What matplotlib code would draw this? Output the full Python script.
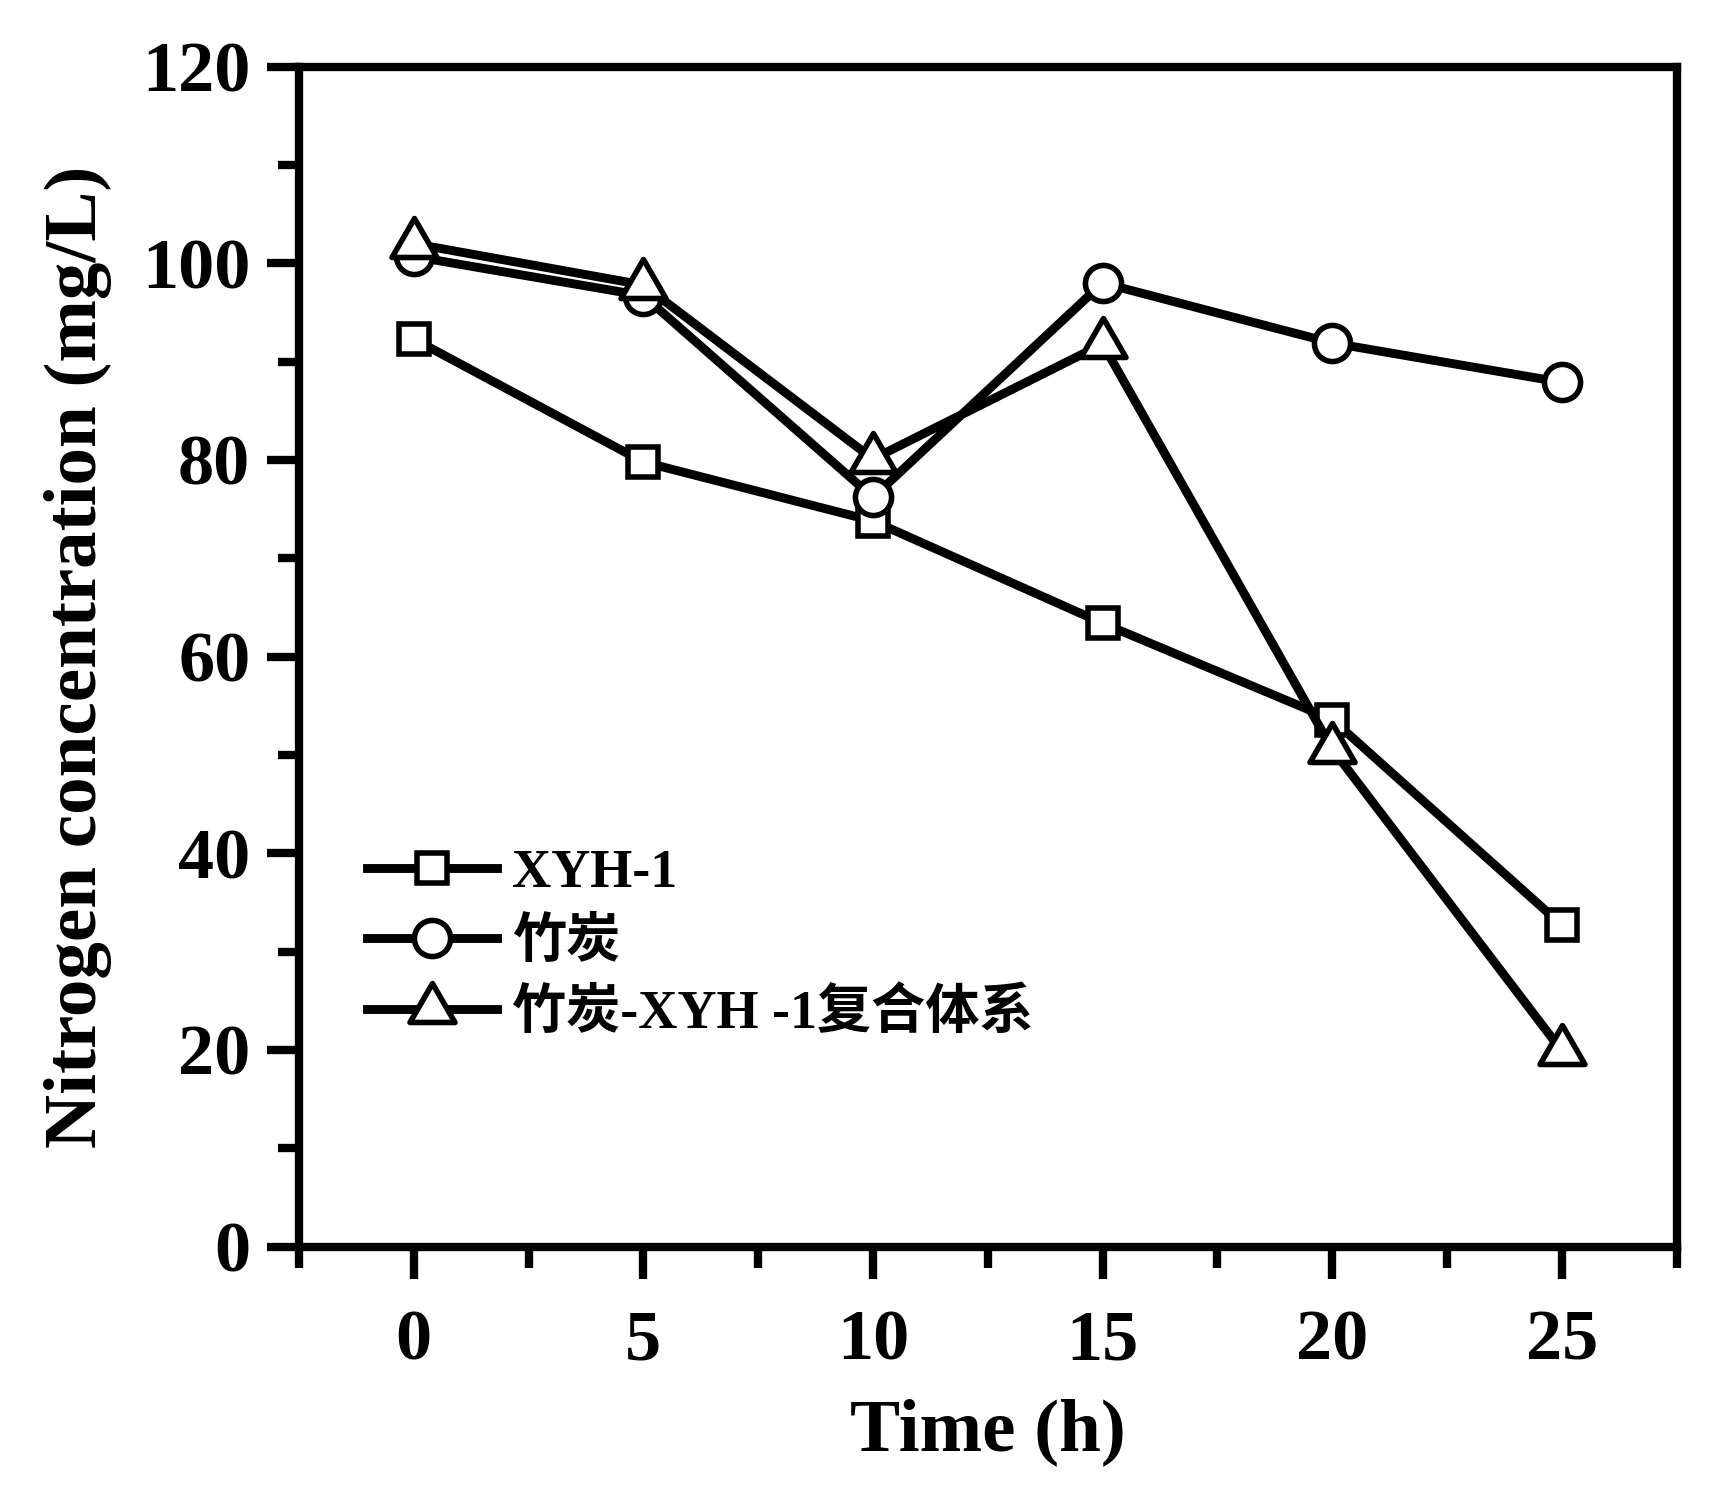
import matplotlib
matplotlib.use('Agg')
import matplotlib.pyplot as plt
from matplotlib.path import Path
from matplotlib.ticker import MultipleLocator, FixedLocator

plt.rcParams['font.family'] = ['Liberation Serif', 'Noto Sans CJK SC']
plt.rcParams['font.weight'] = 'bold'

# data
time_h = [0, 5, 10, 15, 20, 25]
xyh1 = [92.3, 79.8, 73.8, 63.4, 53.6, 32.7]
bamboo_char = [100.7, 96.7, 76.2, 98.0, 91.9, 87.9]
composite = [102.0, 97.8, 80.1, 91.8, 50.6, 19.9]
labels = ['XYH-1', '竹炭', '竹炭-XYH -1复合体系']

# triangle centred on its centroid (Origin style)
tri = Path([(0, 1), (-0.866, -0.5), (0.866, -0.5), (0, 1)], closed=True)

fig = plt.figure(figsize=(8.675, 7.44), dpi=200)
ax = fig.add_axes([0.1723, 0.1622, 0.7941, 0.7930])

style = dict(color='black', lw=3.2, mfc='white', mec='black', mew=2.0)
ax.plot(time_h, xyh1, marker='s', ms=10.7, label=labels[0], **style)
ax.plot(time_h, bamboo_char, marker='o', ms=13, label=labels[1], **style)
ax.plot(time_h, composite, marker=tri, ms=18.7, label=labels[2], **style)

ax.set_xlim(-2.5, 27.5)
ax.set_ylim(0, 120)
ax.xaxis.set_major_locator(FixedLocator([0, 5, 10, 15, 20, 25]))
ax.xaxis.set_minor_locator(MultipleLocator(2.5))
ax.yaxis.set_major_locator(MultipleLocator(20))
ax.yaxis.set_minor_locator(MultipleLocator(10))

for s in ax.spines.values():
    s.set_linewidth(3.0)
ax.tick_params(which='major', direction='out', length=11.5, width=3.0,
               labelsize=26, top=False, right=False)
ax.tick_params(which='minor', direction='out', length=7.5, width=3.0,
               top=False, right=False)
ax.tick_params(axis='x', which='major', pad=11)
ax.tick_params(axis='y', which='major', pad=6)
for t in ax.get_xticklabels() + ax.get_yticklabels():
    t.set_fontweight('bold')

ax.set_xlabel('Time (h)', fontsize=27, fontweight='bold')
ax.set_ylabel('Nitrogen concentration (mg/L)', fontsize=27, fontweight='bold')
ax.xaxis.set_label_coords(0.5, -0.157)
ax.xaxis.label.set_va('center')
ax.yaxis.set_label_coords(-0.160, 0.5)
ax.yaxis.label.set_va('center')

ax.legend(loc='upper left', bbox_to_anchor=(0.03, 0.36), frameon=False,
          borderpad=0, handlelength=2.4, handletextpad=0.27,
          labelspacing=0.35, prop={'size': 19.5, 'weight': 'bold'})

fig.savefig('out.png', dpi=200)
plt.close()
